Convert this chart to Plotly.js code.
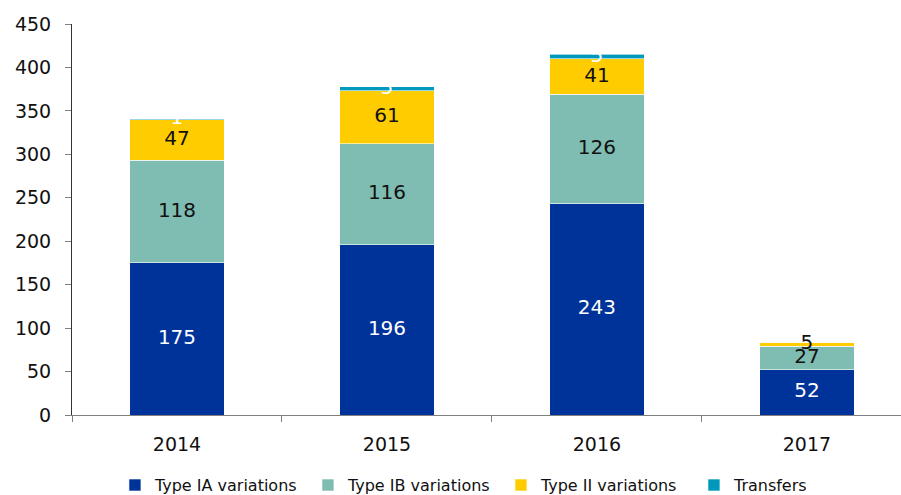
<!DOCTYPE html>
<html>
<head>
<meta charset="utf-8">
<script src="https://cdn.plot.ly/plotly-3.0.1.min.js"></script>
<style>html,body{margin:0;padding:0;background:#fff;}#chart{width:901px;height:495px;}</style>
</head>
<body>
<div id="chart"></div>
<script>
const years = ['2014', '2015', '2016', '2017'];
const typeIA = [175, 196, 243, 52];
const typeIB = [118, 116, 126, 27];
const typeII = [47, 61, 41, 5];
const transfers = [1, 5, 5, 0];
const seriesNames = ['Type IA variations', 'Type IB variations', 'Type II variations', 'Transfers'];
const seriesColors = ['#00339A', '#7FBCB1', '#FFCC00', '#0099BC'];
const labelColors = ['#ffffff', '#111111', '#111111', '#ffffff'];
const yTicks = [0, 50, 100, 150, 200, 250, 300, 350, 400, 450];

const FONT = 'DejaVu Sans, Verdana, sans-serif';
const series = [typeIA, typeIB, typeII, transfers];
const traces = series.map((vals, i) => ({
  type: 'bar', x: years, y: vals, name: seriesNames[i],
  marker: {color: seriesColors[i], line: {color: '#ffffff', width: 0.6}},
  width: 0.45, hoverinfo: 'x+y+name'
}));

// label traces at the middle of each stacked segment
const base = years.map(() => 0);
series.forEach((vals, i) => {
  const lx = [], ly = [], lt = [];
  vals.forEach((v, j) => {
    if (v > 0) { lx.push(years[j]); ly.push(base[j] + v / 2); lt.push(String(v)); }
    base[j] += v;
  });
  traces.push({
    type: 'scatter', mode: 'text', x: lx, y: ly, text: lt,
    textposition: 'middle center', showlegend: false, hoverinfo: 'skip', cliponaxis: false,
    textfont: {family: FONT, size: 20, color: labelColors[i]}
  });
});

const layout = {
  width: 901, height: 495,
  margin: {l: 72, r: 0, t: 24, b: 80},
  paper_bgcolor: '#ffffff', plot_bgcolor: '#ffffff',
  barmode: 'stack', bargap: 0.55,
  showlegend: true,
  legend: {orientation: 'h', x: 0.556, xanchor: 'center', xref: 'container',
           y: 0.02, yanchor: 'middle', yref: 'container',
           font: {family: FONT, size: 16, color: '#111'},
           entrywidth: 148, itemwidth: 30, traceorder: 'normal'},
  xaxis: {type: 'category', range: [-0.5, 3.448], showgrid: false, zeroline: false,
          showline: true, linecolor: '#808080', linewidth: 1,
          ticks: 'outside', tickson: 'boundaries', ticklen: 6, tickcolor: '#808080',
          ticklabelstandoff: 12,
          tickfont: {family: FONT, size: 19, color: '#111'}},
  yaxis: {range: [0, 450], tickvals: yTicks, showgrid: false, zeroline: false,
          showline: true, linecolor: '#333', linewidth: 1,
          ticks: 'outside', ticklen: 6, tickcolor: '#808080',
          ticklabelstandoff: 10,
          tickfont: {family: FONT, size: 19, color: '#111'}}
};

Plotly.newPlot('chart', traces, layout, {displayModeBar: false, staticPlot: true});
</script>
</body>
</html>
